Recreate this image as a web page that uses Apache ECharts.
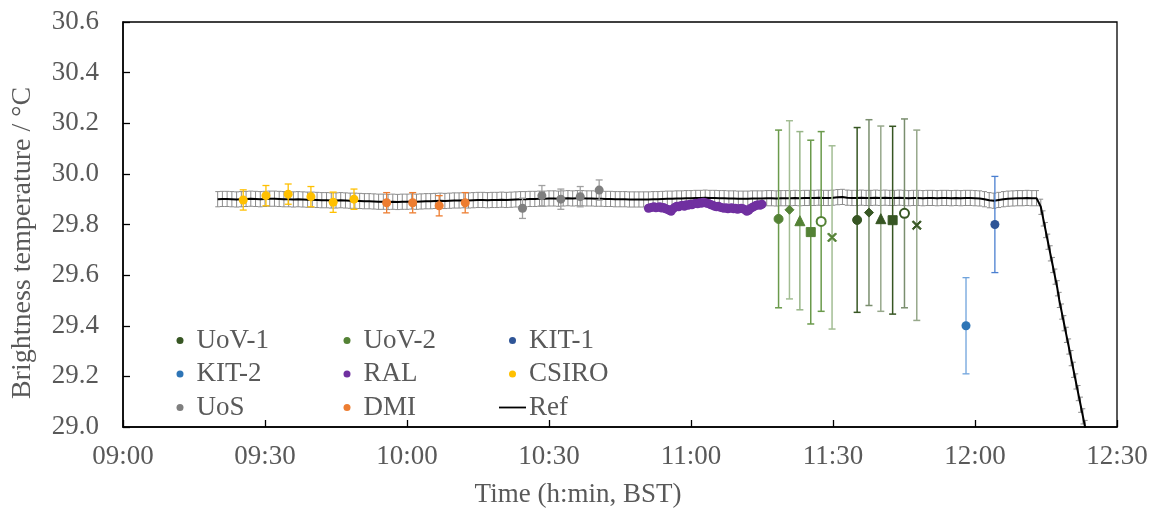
<!DOCTYPE html>
<html><head><meta charset="utf-8">
<script src="https://cdn.jsdelivr.net/npm/echarts@6/dist/echarts.min.js"></script>
<style>html,body{margin:0;padding:0;background:#fff}#c{width:1156px;height:513px}</style>
</head><body><div id="c"></div>
<script>
// ---------- DATA ----------
const xTicks = ["09:00","09:30","10:00","10:30","11:00","11:30","12:00","12:30"];
const yTicks = [29.0,29.2,29.4,29.6,29.8,30.0,30.2,30.4,30.6];

const csiroTime = ["09:25:24","09:30:12","09:34:54","09:39:42","09:44:24","09:48:48"];
const csiroVal  = [29.897,29.914,29.920,29.910,29.888,29.900];
const csiroErr  = [0.04,0.04,0.04,0.04,0.04,0.04];

const dmiTime = ["09:55:42","10:01:12","10:06:48","10:12:18"];
const dmiVal  = [29.886,29.886,29.874,29.886];
const dmiErr  = [0.04,0.04,0.04,0.04];

const uosTime = ["10:24:24","10:28:30","10:32:30","10:36:36","10:40:36"];
const uosVal  = [29.864,29.914,29.900,29.910,29.936];
const uosErr  = [0.04,0.04,0.04,0.04,0.04];

const ralStart = "10:51:00"; const ralStepSec = 24;
const ralVal = [29.864,29.866,29.868,29.870,29.866,29.868,29.870,29.865,29.867,29.862,
  29.860,29.856,29.852,29.862,29.868,29.872,29.870,29.874,29.876,29.872,
  29.878,29.876,29.880,29.878,29.882,29.884,29.882,29.886,29.884,29.888,
  29.886,29.884,29.882,29.878,29.876,29.872,29.870,29.872,29.868,29.866,
  29.864,29.866,29.862,29.864,29.866,29.862,29.864,29.860,29.862,29.864,
  29.862,29.858,29.852,29.856,29.864,29.868,29.872,29.876,29.878,29.876,29.880];

const uov2Time = ["11:18:30","11:20:48","11:23:00","11:25:18","11:27:30","11:29:48"];
const uov2Val  = [29.822,29.858,29.815,29.770,29.812,29.749];
const uov2Err  = [0.351,0.352,0.352,0.363,0.355,0.362];

const uov1Time = ["11:35:06","11:37:36","11:40:06","11:42:36","11:45:06","11:47:42"];
const uov1Val  = [29.818,29.847,29.823,29.817,29.844,29.797];
const uov1Err  = [0.365,0.367,0.366,0.371,0.373,0.376];

const kit2Time = ["11:58:06"]; const kit2Val = [29.40]; const kit2Err = [0.19];
const kit1Time = ["12:04:12"]; const kit1Val = [29.80]; const kit1Err = [0.19];

// Reference: one value per minute from 09:20, then the fall after 12:13
const refStart = "09:20:00"; const refStepSec = 60;
const refVal = [
 29.900,29.901,29.901,29.900,29.899,29.900,29.901,29.902,29.901,29.900,
 29.901,29.902,29.902,29.901,29.900,29.900,29.899,29.900,29.899,29.898,
 29.898,29.897,29.896,29.896,29.895,29.895,29.896,29.895,29.894,29.894,
 29.893,29.892,29.892,29.891,29.890,29.890,29.889,29.890,29.889,29.890,
 29.890,29.891,29.890,29.891,29.892,29.892,29.893,29.894,29.893,29.894,
 29.895,29.895,29.896,29.895,29.896,29.897,29.897,29.896,29.897,29.897,
 29.898,29.897,29.898,29.899,29.900,29.900,29.901,29.901,29.902,29.902,
 29.903,29.903,29.902,29.903,29.904,29.903,29.904,29.904,29.903,29.903,
 29.902,29.902,29.901,29.901,29.900,29.900,29.900,29.899,29.899,29.899,
 29.899,29.899,29.900,29.900,29.901,29.902,29.902,29.903,29.903,29.904,
 29.904,29.905,29.905,29.906,29.905,29.905,29.904,29.904,29.903,29.903,
 29.902,29.902,29.902,29.903,29.903,29.903,29.904,29.904,29.903,29.904,
 29.904,29.904,29.905,29.904,29.905,29.905,29.905,29.906,29.905,29.905,
 29.906,29.908,29.909,29.906,29.905,29.905,29.906,29.905,29.905,29.906,
 29.905,29.906,29.905,29.905,29.906,29.905,29.904,29.905,29.905,29.904,
 29.905,29.905,29.904,29.905,29.905,29.904,29.905,29.904,29.905,29.905,
 29.904,29.903,29.900,29.896,29.894,29.897,29.900,29.902,29.903,29.904,
 29.904,29.905,29.904,29.904];
const refFallTime = ["12:13:54","12:14:24","12:14:54","12:15:24","12:15:54","12:16:24","12:16:54",
  "12:17:24","12:17:48","12:18:18","12:18:48","12:19:18","12:19:48","12:20:18","12:20:48",
  "12:21:18","12:21:48","12:22:18","12:22:48","12:23:18","12:23:48"];
const refFallVal = [29.870,29.824,29.778,29.732,29.686,29.640,29.594,29.548,29.502,29.456,
  29.410,29.364,29.318,29.272,29.226,29.180,29.134,29.088,29.042,28.996,28.950];
const refErr = 0.03;

// ---------- STYLE ----------
const FONT = "'Liberation Serif','Times New Roman',serif";
const TXT = '#595959';
const C = {uov1:'#375623', uov2:'#548235', kit1:'#2F5597', kit2:'#2E75B6', ral:'#7030A0',
           csiro:'#FFC000', uos:'#7F7F7F', dmi:'#ED7D31'};
const xPath = 'path://M0,1.2L1.2,0L5,3.8L8.8,0L10,1.2L6.2,5L10,8.8L8.8,10L5,6.2L1.2,10L0,8.8L3.8,5Z';
const uovShapes = ['circle','diamond','triangle','rect','emptyCircle', xPath];
const uovSizes  = [9,9,10,9,9,9];
const uov2BarColors = ['#6A9A4B','#A3BD94','#98B588','#6A9A4B','#6A9A4B','#A3BD94'];
const uov1BarColors = ['#375623','#7A8E6E','#97A88B','#375623','#7A8E6E','#97A88B'];

// ---------- HELPERS ----------
function toMin(s){ const p=s.split(':').map(Number); return p[0]*60+p[1]+(p[2]||0)/60; }
function fmt(m){ const h=Math.floor(m/60), mm=Math.round(m-h*60); return String(h).padStart(2,'0')+':'+String(mm).padStart(2,'0'); }
function pts(times, vals){ return times.map((t,i)=>[toMin(t), vals[i]]); }
function errData(times, vals, errs){ return times.map((t,i)=>{ const e = Array.isArray(errs)?errs[i]:errs; return [toMin(t), vals[i]-e, vals[i]+e]; }); }
function errSeries(data, color, cap, width, z){
  return { type:'custom', data, z: z||2, clip:true, silent:true,
    renderItem:(params, api)=>{
      const x=api.value(0), lo=api.value(1), hi=api.value(2);
      const a=api.coord([x,hi]), b=api.coord([x,lo]);
      const col = typeof color==='function' ? color(params.dataIndex) : color;
      const st={stroke:col, lineWidth:width||1.3};
      return {type:'group', children:[
        {type:'line', shape:{x1:a[0],y1:a[1],x2:b[0],y2:b[1]}, style:st},
        {type:'line', shape:{x1:a[0]-cap,y1:a[1],x2:a[0]+cap,y2:a[1]}, style:st},
        {type:'line', shape:{x1:b[0]-cap,y1:b[1],x2:b[0]+cap,y2:b[1]}, style:st}
      ]};
    }, encode:{x:0,y:[1,2]} };
}

const ralTime = ralVal.map((v,i)=>toMin(ralStart)+i*ralStepSec/60);
const refTimes = refVal.map((v,i)=>toMin(refStart)+i*refStepSec/60).concat(refFallTime.map(toMin));
const refAll = refVal.concat(refFallVal);
const refPts = refTimes.map((t,i)=>[t, refAll[i]]);
const refErrPts = refTimes.map((t,i)=>[t, refAll[i]-refErr, refAll[i]+refErr]);

function uovData(times, vals){
  return times.map((t,i)=>{
    const shp = uovShapes[i];
    const o = {value:[toMin(t), vals[i]], symbol:shp, symbolSize:uovSizes[i]};
    if (shp==='emptyCircle') o.itemStyle={borderWidth:1.5};
    return o;
  });
}

const chart = echarts.init(document.getElementById('c'), null, {renderer:'canvas'});
const legendBase = {orient:'vertical', itemWidth:27, itemHeight:7, itemGap:6.5, icon:'circle',
  selectedMode:false, textStyle:{fontFamily:FONT, fontSize:27, color:TXT, lineHeight:27, padding:[0,0,0,-2]}};

chart.setOption({
  animation:false,
  backgroundColor:'#fff',
  grid:{left:123, right:39, top:22, bottom:86, show:true, borderColor:'#000', borderWidth:1.3},
  xAxis:{type:'value', min:toMin(xTicks[0]), max:toMin(xTicks[xTicks.length-1]), interval:30,
    splitLine:{show:false},
    axisLine:{lineStyle:{color:'#000', width:1.5}},
    axisTick:{inside:true, length:7, lineStyle:{color:'#000', width:1.3}},
    axisLabel:{formatter:v=>fmt(v), fontFamily:FONT, fontSize:27, color:TXT, margin:16}},
  yAxis:{type:'value', min:yTicks[0], max:yTicks[yTicks.length-1], interval:0.2,
    splitLine:{show:false},
    axisLine:{show:true, lineStyle:{color:'#000', width:1.5}},
    axisTick:{show:true, inside:true, length:7, lineStyle:{color:'#000', width:1.3}},
    axisLabel:{formatter:v=>v.toFixed(1), fontFamily:FONT, fontSize:27, color:TXT, margin:24}},
  graphic:[
    {type:'text', left:'center', top:481, style:{text:'Time (h:min, BST)', font:'27px '+FONT, fill:TXT}},
    {type:'text', x:9, y:243, rotation:Math.PI/2, style:{text:'Brightness temperature / °C', font:'28px '+FONT, fill:TXT, align:'center', verticalAlign:'top'}}
  ],
  legend:[
    Object.assign({}, legendBase, {left:171.5, top:322, data:['UoV-1','KIT-2','UoS']}),
    Object.assign({}, legendBase, {left:338.5, top:322, data:['UoV-2','RAL','DMI']}),
    Object.assign({}, legendBase, {left:494, top:322, data:['KIT-1','CSIRO',{name:'Ref', icon:'path://M0,0H30V2H0Z'}]})
  ],
  series:[
    errSeries(refErrPts, '#8C8C8C', 2.4, 1, 1),
    {name:'Ref', type:'line', data:refPts, showSymbol:false, symbol:'none', clip:true, z:1,
     lineStyle:{color:'#000', width:2}, itemStyle:{color:'#000'}},
    errSeries(errData(csiroTime,csiroVal,csiroErr), '#FFC000', 3.5, 1.3),
    errSeries(errData(dmiTime,dmiVal,dmiErr), '#ED7D31', 3.5, 1.3),
    errSeries(errData(uosTime,uosVal,uosErr), '#A0A0A0', 3.5, 1.3),
    errSeries(errData(uov2Time,uov2Val,uov2Err), i=>uov2BarColors[i], 3.5, 1.5),
    errSeries(errData(uov1Time,uov1Val,uov1Err), i=>uov1BarColors[i], 3.5, 1.5),
    errSeries(errData(kit2Time,kit2Val,kit2Err), '#6FA3DC', 3.5, 1.3),
    errSeries(errData(kit1Time,kit1Val,kit1Err), '#4A7FD0', 3.5, 1.3),
    {name:'CSIRO', type:'scatter', data:pts(csiroTime,csiroVal), symbolSize:9, itemStyle:{color:C.csiro, opacity:1}},
    {name:'DMI', type:'scatter', data:pts(dmiTime,dmiVal), symbolSize:9, itemStyle:{color:C.dmi, opacity:1}},
    {name:'UoS', type:'scatter', data:pts(uosTime,uosVal), symbolSize:9, itemStyle:{color:C.uos, opacity:1}},
    {name:'RAL', type:'scatter', data:ralTime.map((t,i)=>[t,ralVal[i]]), symbolSize:9, itemStyle:{color:C.ral, opacity:1}},
    {name:'UoV-2', type:'scatter', data:uovData(uov2Time,uov2Val), itemStyle:{color:C.uov2, borderColor:C.uov2, opacity:1}},
    {name:'UoV-1', type:'scatter', data:uovData(uov1Time,uov1Val), itemStyle:{color:C.uov1, borderColor:C.uov1, opacity:1}},
    {name:'KIT-2', type:'scatter', data:pts(kit2Time,kit2Val), symbolSize:9, itemStyle:{color:C.kit2, opacity:1}},
    {name:'KIT-1', type:'scatter', data:pts(kit1Time,kit1Val), symbolSize:9, itemStyle:{color:C.kit1, opacity:1}}
  ]
});
</script></body></html>
